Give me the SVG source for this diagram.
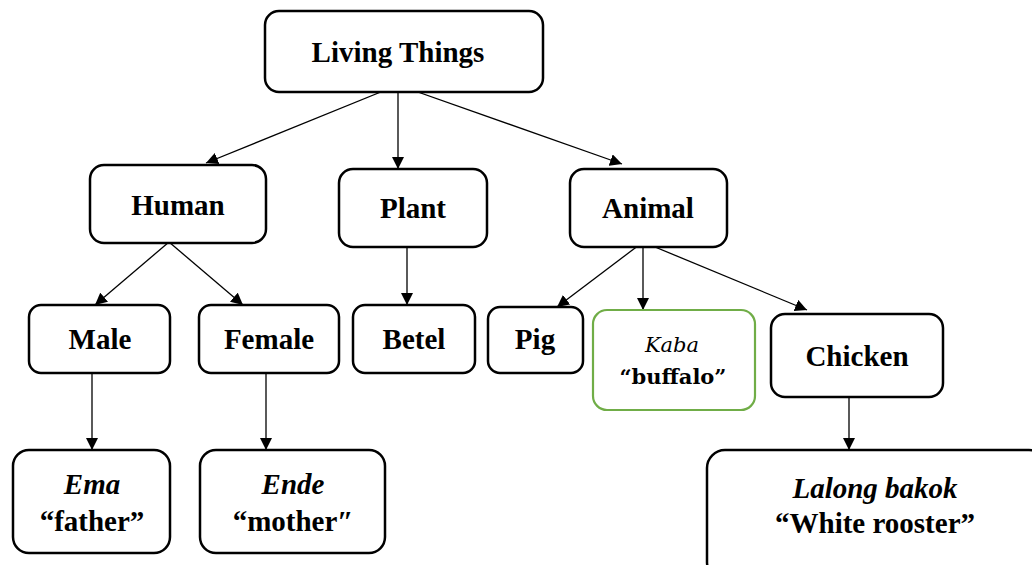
<svg xmlns="http://www.w3.org/2000/svg" width="1032" height="565" viewBox="0 0 1032 565">
<defs>
<style>
.box{fill:#fff;stroke:#000;stroke-width:2.5}
.green{fill:#fff;stroke:#70AD47;stroke-width:2.2}
.t{font-family:"Liberation Serif","Times New Roman",serif;font-weight:bold;font-size:29px;fill:#000;text-anchor:middle}
.i{font-style:italic}
.c{font-family:"DejaVu Serif","Liberation Serif",serif;font-size:21px;fill:#000;text-anchor:middle}
.ln{stroke:#000;stroke-width:1.3;fill:none;marker-end:url(#ah)}
</style>
<marker id="ah" viewBox="0 0 10 10" refX="10" refY="5" markerWidth="12" markerHeight="12" markerUnits="userSpaceOnUse" orient="auto">
<path d="M0,0 L10,5 L0,10 Z" fill="#000"/>
</marker>
</defs>
<rect width="1032" height="565" fill="#fff"/>
<g id="connectors">
<line class="ln" x1="398" y1="85" x2="206" y2="163"/>
<line class="ln" x1="398" y1="85" x2="398" y2="169"/>
<line class="ln" x1="398" y1="85" x2="622" y2="164"/>
<line class="ln" x1="169" y1="242" x2="95" y2="305"/>
<line class="ln" x1="169" y1="242" x2="243" y2="305"/>
<line class="ln" x1="407" y1="241" x2="407" y2="305"/>
<line class="ln" x1="643" y1="242" x2="557" y2="307"/>
<line class="ln" x1="643" y1="242" x2="643" y2="310"/>
<line class="ln" x1="643" y1="242" x2="807" y2="310"/>
<line class="ln" x1="92" y1="366" x2="92" y2="450"/>
<line class="ln" x1="266" y1="366" x2="266" y2="450"/>
<line class="ln" x1="849" y1="390" x2="849" y2="450"/>
</g>
<g id="living-things">
<rect class="box" x="265" y="11" width="278" height="81" rx="14"/>
<text class="t" x="398" y="62">Living Things</text>
</g>
<g id="human">
<rect class="box" x="90" y="165" width="176" height="78" rx="14"/>
<text class="t" x="178" y="215">Human</text>
</g>
<g id="plant">
<rect class="box" x="339" y="169" width="148" height="78" rx="14"/>
<text class="t" x="413" y="218">Plant</text>
</g>
<g id="animal">
<rect class="box" x="570" y="169" width="157" height="78" rx="14"/>
<text class="t" x="648" y="218">Animal</text>
</g>
<g id="male">
<rect class="box" x="29" y="305" width="141" height="68" rx="12"/>
<text class="t" x="100" y="349">Male</text>
</g>
<g id="female">
<rect class="box" x="199" y="305" width="140" height="68" rx="12"/>
<text class="t" x="269" y="349">Female</text>
</g>
<g id="betel">
<rect class="box" x="353" y="305" width="122" height="68" rx="12"/>
<text class="t" x="414" y="349">Betel</text>
</g>
<g id="pig">
<rect class="box" x="488" y="307" width="95" height="66" rx="12"/>
<text class="t" x="535" y="349">Pig</text>
</g>
<g id="kaba">
<rect class="green" x="593" y="310" width="162" height="100" rx="14"/>
<text class="c i" x="672" y="352">Kaba</text>
<text class="c" x="673" y="384" font-weight="bold">“buffalo”</text>
</g>
<g id="chicken">
<rect class="box" x="771" y="314" width="172" height="83" rx="14"/>
<text class="t" x="857" y="366">Chicken</text>
</g>
<g id="ema">
<rect class="box" x="13" y="450" width="157" height="103" rx="16"/>
<text class="t i" x="92" y="494">Ema</text>
<text class="t" x="92" y="531">“father”</text>
</g>
<g id="ende">
<rect class="box" x="200" y="450" width="185" height="103" rx="16"/>
<text class="t i" x="293" y="494">Ende</text>
<text class="t" x="293" y="531">“mother″</text>
</g>
<g id="lalong-bakok">
<rect class="box" x="707" y="450" width="340" height="130" rx="18"/>
<text class="t i" x="875" y="498">Lalong bakok</text>
<text class="t" x="875" y="533">“White rooster”</text>
</g>
</svg>
